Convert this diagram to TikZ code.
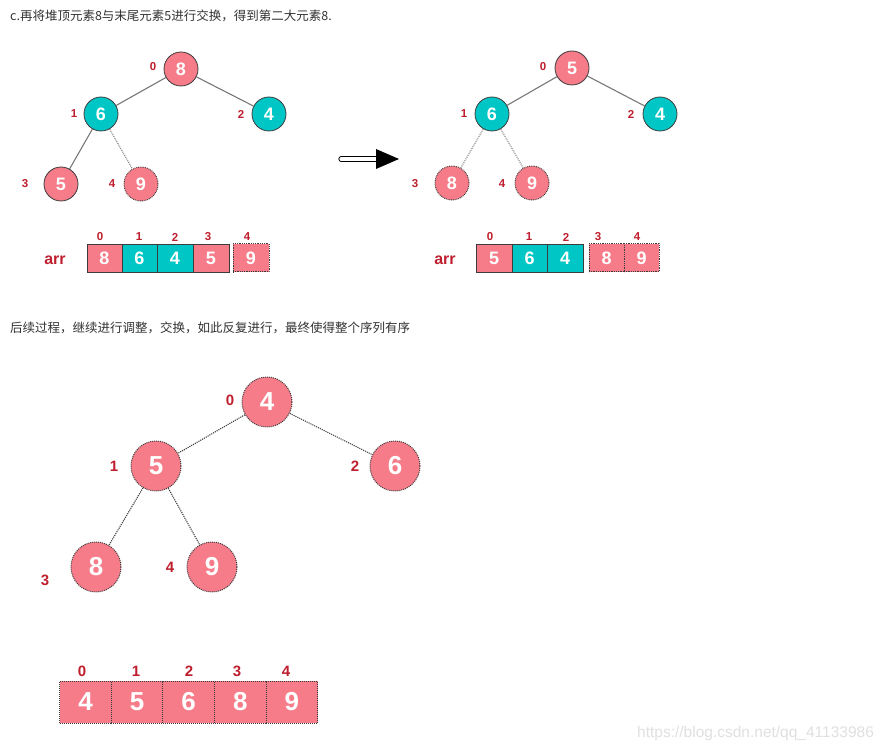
\documentclass[tikz,border=0pt]{standalone}
\usepackage{fontspec}
\setmainfont{Liberation Sans}
\newfontfamily\cjk{Noto Sans CJK SC}
\definecolor{pinkc}{RGB}{246,124,137}
\definecolor{tealc}{RGB}{0,198,198}
\definecolor{idxred}{RGB}{190,30,45}
\definecolor{edgegray}{RGB}{120,120,120}
\definecolor{bordc}{RGB}{60,60,60}
\begin{document}
\begin{tikzpicture}[x=1pt,y=-1pt,
  sn/.style={circle,minimum size=34pt,inner sep=0pt,draw=bordc,line width=0.8pt,text=white,font=\bfseries\fontsize{18}{18}\selectfont},
  bn/.style={circle,minimum size=50pt,inner sep=0pt,draw=bordc,densely dotted,line width=1pt,fill=pinkc,text=white,font=\bfseries\fontsize{26}{26}\selectfont},
  pk/.style={fill=pinkc},
  tl/.style={fill=tealc},
  dd/.style={densely dotted,line width=1pt},
  idx/.style={text=idxred,font=\bfseries\fontsize{11.5}{11.5}\selectfont},
  bidx/.style={text=idxred,font=\bfseries\fontsize{15}{15}\selectfont},
  solidedge/.style={draw=edgegray,line width=1.1pt},
  dotedge/.style={draw=edgegray,densely dotted,line width=1pt},
  bdotedge/.style={draw=bordc,densely dotted,line width=1.1pt},
  cellb/.style={draw=bordc,line width=0.8pt,text=white,font=\bfseries\fontsize{18}{18}\selectfont,inner sep=0pt,minimum height=28pt},
  bcell/.style={draw=bordc,densely dotted,line width=1pt,fill=pinkc,text=white,font=\bfseries\fontsize{26}{26}\selectfont,inner sep=0pt,minimum height=42pt,minimum width=51.6pt},
  arrlab/.style={text=idxred,font=\bfseries\fontsize{16}{16}\selectfont},
  note/.style={anchor=west,text=black!80,font=\cjk\fontsize{12.5}{12.5}\selectfont,inner sep=0pt}
]
\useasboundingbox (0,0) rectangle (889,751);
\fill[white] (0,0) rectangle (889,751);

\node[note] (t1) at (10,16) {c.再将堆顶元素8与末尾元素5进行交换，得到第二大元素8.};
\node[note] (t2) at (10,328) {后续过程，继续进行调整，交换，如此反复进行，最终使得整个序列有序};

% ---------- left tree ----------
\node[sn,pk] (a0) at (181,69) {8};
\node[sn,tl] (a1) at (101,114) {6};
\node[sn,tl] (a2) at (269,114) {4};
\node[sn,pk] (a3) at (61,184) {5};
\node[sn,pk,dd] (a4) at (141,184) {9};
\draw[solidedge] (a0) -- (a1);
\draw[solidedge] (a0) -- (a2);
\draw[solidedge] (a1) -- (a3);
\draw[dotedge] (a1) -- (a4);
\node[idx] (la0) at (153,67) {0};
\node[idx] (la1) at (74,114) {1};
\node[idx] (la2) at (241,114) {2};
\node[idx] (la3) at (25,184) {3};
\node[idx] (la4) at (112,184) {4};

% left array
\node[arrlab] (arrA) at (55,260) {arr};
\node[cellb,pk,minimum width=35pt] (ac0) at (104.5,258) {8};
\node[cellb,tl,minimum width=35pt] (ac1) at (139.5,258) {6};
\node[cellb,tl,minimum width=36pt] (ac2) at (175,258) {4};
\node[cellb,pk,minimum width=36pt] (ac3) at (211,258) {5};
\node[cellb,pk,dd,minimum width=36pt] (ac4) at (251,258) {9};
\node[idx] (ai0) at (100,237) {0};
\node[idx] (ai1) at (139,237) {1};
\node[idx] (ai2) at (175,237) {2};
\node[idx] (ai3) at (208,237) {3};
\node[idx] (ai4) at (247,237) {4};

% ---------- arrow ----------
\coordinate (arS) at (341,159);
\coordinate (arE) at (378,159);
\draw[double=white,double distance=3.2pt,line width=1pt,line cap=round] (arS) -- (arE);
\fill[black] (376,149) -- (399,159) -- (376,169) -- cycle;

% ---------- right tree ----------
\node[sn,pk] (b0) at (572,68) {5};
\node[sn,tl] (b1) at (492,114) {6};
\node[sn,tl] (b2) at (660,114) {4};
\node[sn,pk,dd] (b3) at (452,183) {8};
\node[sn,pk,dd] (b4) at (532,183) {9};
\draw[solidedge] (b0) -- (b1);
\draw[solidedge] (b0) -- (b2);
\draw[dotedge] (b1) -- (b3);
\draw[dotedge] (b1) -- (b4);
\node[idx] (lb0) at (543,67) {0};
\node[idx] (lb1) at (464,114) {1};
\node[idx] (lb2) at (631,114) {2};
\node[idx] (lb3) at (415,184) {3};
\node[idx] (lb4) at (502,184) {4};

% right array
\node[arrlab] (arrB) at (445,260) {arr};
\node[cellb,pk,minimum width=36pt] (bc0) at (494,258) {5};
\node[cellb,tl,minimum width=35pt] (bc1) at (529.5,258) {6};
\node[cellb,tl,minimum width=36pt] (bc2) at (565,258) {4};
\node[cellb,pk,dd,minimum width=35pt] (bc3) at (606.5,258) {8};
\node[cellb,pk,dd,minimum width=35pt] (bc4) at (641.5,258) {9};
\node[idx] (bi0) at (490,237) {0};
\node[idx] (bi1) at (529,237) {1};
\node[idx] (bi2) at (566,237) {2};
\node[idx] (bi3) at (598,237) {3};
\node[idx] (bi4) at (637,237) {4};

% ---------- bottom tree ----------
\node[bn] (c0) at (267,402) {4};
\node[bn] (c1) at (156,466) {5};
\node[bn] (c2) at (395,466) {6};
\node[bn] (c3) at (96,567) {8};
\node[bn] (c4) at (212,567) {9};
\draw[bdotedge] (c0) -- (c1);
\draw[bdotedge] (c0) -- (c2);
\draw[bdotedge] (c1) -- (c3);
\draw[bdotedge] (c1) -- (c4);
\node[bidx] (lc0) at (230,400) {0};
\node[bidx] (lc1) at (114,466) {1};
\node[bidx] (lc2) at (355,466) {2};
\node[bidx] (lc3) at (45,580) {3};
\node[bidx] (lc4) at (170,567) {4};

% bottom array
\node[bcell] (cc0) at (85.5,702) {4};
\node[bcell] (cc1) at (137.1,702) {5};
\node[bcell] (cc2) at (188.7,702) {6};
\node[bcell] (cc3) at (240.3,702) {8};
\node[bcell] (cc4) at (291.9,702) {9};
\node[bidx] (ci0) at (82,671) {0};
\node[bidx] (ci1) at (136,671) {1};
\node[bidx] (ci2) at (189,671) {2};
\node[bidx] (ci3) at (237,671) {3};
\node[bidx] (ci4) at (286,671) {4};

% watermark
\node[anchor=west,text=black!12,font=\fontsize{15.5}{15.5}\selectfont,inner sep=0pt] (wm) at (637,733) {https://blog.csdn.net/qq\_41133986};
\end{tikzpicture}
\end{document}
